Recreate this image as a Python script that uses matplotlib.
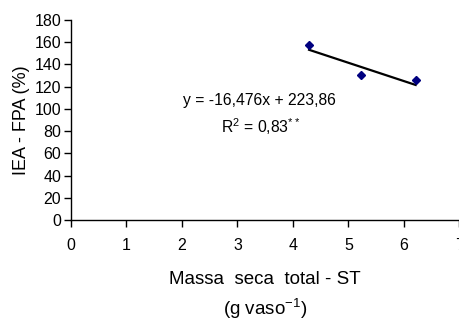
import matplotlib
matplotlib.use("Agg")
import matplotlib.pyplot as plt
import numpy as np

plt.rcParams['font.family'] = ['Liberation Sans', 'DejaVu Sans']
plt.rcParams['mathtext.fontset'] = 'custom'
plt.rcParams['mathtext.rm'] = 'Liberation Sans'
plt.rcParams['mathtext.it'] = 'Liberation Sans:italic'

x_vals = [4.29, 5.22, 6.21]
y_vals = [157.8, 130.2, 126.0]
slope = -16.476
intercept = 223.86
x_ticks = [0, 1, 2, 3, 4, 5, 6, 7]
y_ticks = [0, 20, 40, 60, 80, 100, 120, 140, 160, 180]

fig = plt.figure(figsize=(4.6, 3.21), dpi=100)
ax = fig.add_axes([0.1543, 0.3146, 0.8446, 0.6231])

xf = np.array([min(x_vals), max(x_vals)])
ax.plot(xf, slope * xf + intercept, color='black', lw=1.6, zorder=2)
ax.plot(x_vals, y_vals, linestyle='none', marker='D', markersize=4.5,
        color='#000080', zorder=3)

ax.set_xlim(0, 7)
ax.set_ylim(0, 180)
ax.set_xticks(x_ticks)
ax.set_yticks(y_ticks)
ax.spines['top'].set_visible(False)
ax.spines['right'].set_visible(False)
for s in ['left', 'bottom']:
    ax.spines[s].set_linewidth(1.0)
ax.tick_params(direction='out', length=5, width=1.0, labelsize=11.5, pad=2)
ax.tick_params(axis='x', pad=8)

ax.set_ylabel('IEA - FPA (%)', fontsize=13, labelpad=3)
ax.set_xlabel('Massa  seca  total - ST\n(g vaso$^{\\mathregular{-1}}$)', fontsize=13.5,
              labelpad=13, linespacing=1.5)

ax.text(3.40, 108, 'y = -16,476x + 223,86', fontsize=11.3, ha='center', va='center')
ax.text(3.42, 83.7, 'R$^{\\mathregular{2}}$ = 0,83$^{\\mathregular{**}}$', fontsize=11.3,
        ha='center', va='center')

fig.savefig('out.png', dpi=100)
